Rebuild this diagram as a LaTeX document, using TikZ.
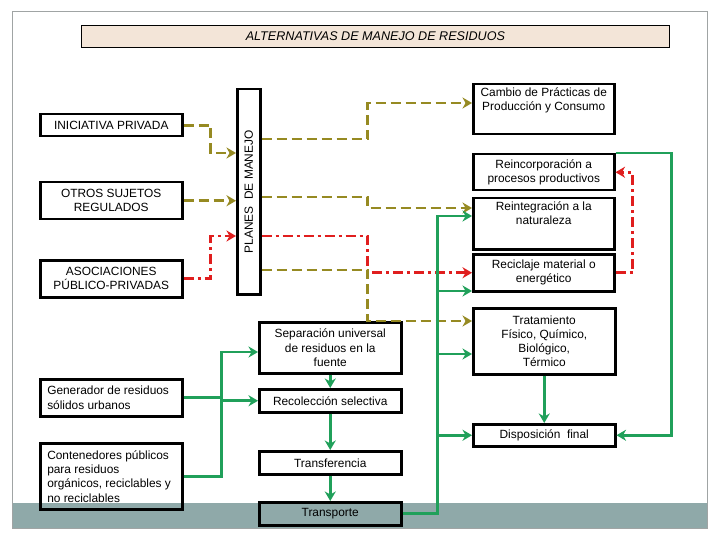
\documentclass[tikz,border=0pt]{standalone}
\usepackage{fontspec}
\setmainfont{Liberation Sans}
\usepackage{graphicx}
\usetikzlibrary{arrows.meta,calc}
\definecolor{olv}{HTML}{968A22}
\definecolor{rd}{HTML}{E01E1E}
\definecolor{grn}{HTML}{20A05A}
\definecolor{band}{HTML}{8FA9A9}
\definecolor{peach}{HTML}{F3E5D8}
\definecolor{framec}{HTML}{A0A4A4}
\newcommand{\bxc}[3]{\parbox[c][#2pt][c]{#1pt}{\centering #3}}
\newcommand{\bxt}[3]{\parbox[c][#2pt][t]{#1pt}{\centering\vspace*{3pt}#3}}
\newcommand{\bxl}[3]{\parbox[c][#2pt][c]{#1pt}{\raggedright\leftskip=7pt #3}}
\begin{document}
\begin{tikzpicture}[x=1pt,y=-1pt,
  bx/.style={draw=black,line width=2.5pt,inner sep=0pt,anchor=north west,font=\fontsize{11.9}{14.3}\selectfont},
  tip/.style={-{Stealth[length=9.5pt,width=11pt,inset=3pt]}},
  olvA/.style={draw=olv,line width=2.8pt,dash pattern=on 10pt off 5pt,tip},
  rdA/.style={draw=rd,line width=2.8pt,dash pattern=on 10pt off 4pt on 3pt off 4pt,tip},
  grnA/.style={draw=grn,line width=2.8pt,tip}
]
\useasboundingbox (0,0) rectangle (720,540);
\fill[band] (12,503) rectangle (707,528);
\draw[framec,line width=1pt] (12,12) rectangle (707,528);

\node[draw=black,line width=0.8pt,fill=peach,anchor=north west,inner sep=0pt,minimum width=588pt,minimum height=22pt,font=\fontsize{12.6}{14}\selectfont\itshape] (title) at (81,25) {ALTERNATIVAS DE MANEJO DE RESIDUOS};

\node[bx] (ini) at (39,113) {\bxc{142}{22}{INICIATIVA PRIVADA}};
\node[bx] (otros) at (39,181) {\bxc{142}{37}{OTROS SUJETOS\\REGULADOS}};
\node[bx] (asoc) at (39,259) {\bxc{142}{37}{ASOCIACIONES\\PÚBLICO-PRIVADAS}};
\node[bx,minimum width=23pt,minimum height=205pt] (planes) at (236,88) {\rotatebox{90}{PLANES\ \ DE MANEJO}};

\node[bx] (cambio) at (472,83) {\bxt{141}{50}{Cambio de Prácticas de\\Producción y Consumo}};
\node[bx] (reinc) at (472,153) {\bxc{141}{36}{Reincorporación a\\procesos productivos}};
\node[bx] (reint) at (472,197) {\bxt{141}{51}{Reintegración a la\\naturaleza}};
\node[bx] (recic) at (472,253) {\bxc{141}{37}{Reciclaje material o\\energético}};
\node[bx] (trat) at (472,307) {\bxc{142}{66}{Tratamiento\\Físico, Químico,\\Biológico,\\Térmico}};
\node[bx] (disp) at (472,423) {\bxc{142}{22}{Disposición\ \ final}};

\node[bx] (sep) at (258,321) {\bxc{142}{51}{Separación universal\\de residuos en la\\fuente}};
\node[bx] (recol) at (258,388) {\bxc{142}{23}{Recolección selectiva}};
\node[bx] (transf) at (258,450) {\bxc{142}{23}{Transferencia}};
\node[bx,fill=band] (transp) at (258,501) {\bxc{142}{23}{Transporte}};

\node[bx] (gen) at (39,378) {\bxl{142}{37}{Generador de residuos\\sólidos urbanos}};
\node[bx] (cont) at (39,442) {\bxl{142}{66}{Contenedores públicos\\para residuos\\orgánicos, reciclables y\\no reciclables}};

% to PLANES
\draw[olvA] (ini.east) -- ++(27,0) |- ($(planes.north west)+(0,65)$);
\draw[olvA] (otros.east) -- (otros.east -| planes.west);
\draw[rdA] (asoc.east) -- ++(27,0) |- ($(planes.north west)+(0,148)$);
% from PLANES
\draw[olvA] ($(planes.north east)+(0,51)$) -- ++(106,0) |- ($(cambio.north west)+(0,20)$);
\draw[olvA] ($(planes.north east)+(0,109)$) -- ++(106,0) |- ($(reint.north west)+(0,11)$);
\draw[rdA] ($(planes.north east)+(0,148)$) -- ++(106,0) |- (recic.west);
\draw[olvA] ($(planes.north east)+(0,182)$) -- ++(106,0) |- ($(trat.north west)+(0,14)$);
% right loops
\draw[rdA] (recic.east) -- ++(17,0) |- (reinc.east);
\draw[grnA] (reinc.north east) -- ++(56,0) |- (disp.east);
\draw[grnA] (trat.south) -- (disp.north);
% transport bus
\draw[grnA] (transp.east) -- ++(35,0) coordinate (vb) |- ($(reint.north west)+(0,19)$);
\coordinate (r1) at ($(recic.south west)+(0,-1.5)$);
\coordinate (t1) at ($(trat.north west)+(0,47)$);
\draw[grnA] (vb |- r1) -- (r1);
\draw[grnA] (vb |- t1) -- (t1);
\draw[grnA] (vb |- disp.west) -- (disp.west);
% left chain
\draw[grnA] (gen.east) -- ++(38,0) |- (recol.west);
\draw[grnA] (cont.east) -- ++(38,0) |- ($(sep.north west)+(0,31)$);
\draw[grnA] (sep.south) -- (recol.north);
\draw[grnA] (recol.south) -- (transf.north);
\draw[grnA] (transf.south) -- (transp.north);
\end{tikzpicture}
\end{document}
